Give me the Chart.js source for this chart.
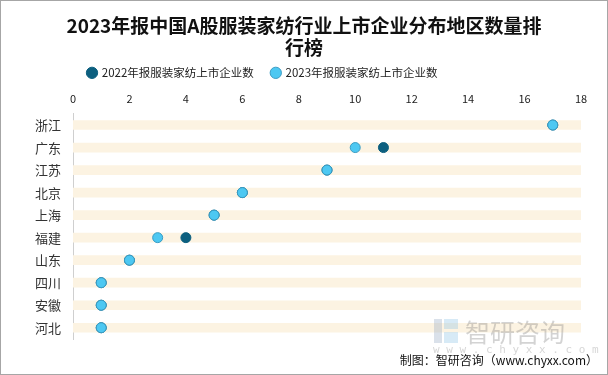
<!DOCTYPE html>
<html>
<head>
<meta charset="utf-8">
<script src="https://cdn.jsdelivr.net/npm/chart.js@4/dist/chart.umd.min.js"></script>
<style>
  html, body { margin: 0; padding: 0; background: #fff; }
  #wrap { position: relative; width: 606px; height: 373px; border: 1px solid #a6a6a6; }
  canvas { display: block; }
</style>
</head>
<body>
<div id="wrap"><canvas id="c" width="606" height="373"></canvas></div>
<script>
// 数据
const regions = ['浙江', '广东', '江苏', '北京', '上海', '福建', '山东', '四川', '安徽', '河北'];
const count2022 = [17, 11, 9, 6, 5, 4, 2, 1, 1, 1];
const count2023 = [17, 10, 9, 6, 5, 3, 2, 1, 1, 1];
const xTicks = [0, 2, 4, 6, 8, 10, 12, 14, 16, 18];
const xMax = 18;

const fontCN = '"Noto Sans CJK SC", "Noto Sans", sans-serif';

// 图例左移（原图图例不居中）
const pluginLegenda = {
  id: 'legendaPos',
  beforeDraw: (chart) => {
    if (chart.legend) chart.legend.left = 69;
  }
};

// 水印 + 制图来源
const pluginTexto = {
  id: 'textoExtra',
  afterDraw: (chart) => {
    const { ctx } = chart;
    ctx.save();
    // logo mark
    ctx.fillStyle = 'rgba(150,170,195,0.35)';
    ctx.fillRect(433, 318, 8, 24);
    ctx.fillStyle = 'rgba(140,195,230,0.35)';
    ctx.fillRect(443, 318, 14, 10);
    ctx.fillRect(443, 331, 14, 11);
    ctx.fillStyle = 'rgba(110,110,110,0.3)';
    ctx.font = '25px ' + fontCN;
    ctx.textBaseline = 'middle';
    ctx.fillText('智研咨询', 464, 331);
    ctx.font = '11px "DejaVu Sans Mono", monospace';
    ctx.fillStyle = 'rgba(120,120,120,0.3)';
    ctx.fillText('w w w . c h y x x . c o m', 432, 349);

    ctx.fillStyle = '#111';
    ctx.font = '12px ' + fontCN;
    ctx.textAlign = 'right';
    ctx.fillText('制图：智研咨询（www.chyxx.com）', 597, 359);
    ctx.restore();
  }
};

new Chart(document.getElementById('c'), {
  type: 'bar',
  data: {
    labels: regions,
    datasets: [
      {
        label: 'faixa',
        data: regions.map(() => xMax),
        backgroundColor: '#FCF3E2',
        barThickness: 9,
        order: 3
      },
      {
        type: 'line',
        label: '2022年报服装家纺上市企业数',
        data: count2022,
        showLine: false,
        pointStyle: 'circle',
        pointRadius: 5,
        pointBackgroundColor: '#0C5F7F',
        pointBorderColor: '#0C5F7F',
        backgroundColor: '#0C5F7F',
        borderColor: '#0C5F7F',
        pointBorderWidth: 1,
        order: 2
      },
      {
        type: 'line',
        label: '2023年报服装家纺上市企业数',
        data: count2023,
        showLine: false,
        pointStyle: 'circle',
        pointRadius: 5,
        pointBackgroundColor: '#4DC8F2',
        pointBorderColor: '#3A9CC4',
        backgroundColor: '#4DC8F2',
        borderColor: '#4DC8F2',
        pointBorderWidth: 1,
        order: 1
      }
    ]
  },
  options: {
    indexAxis: 'y',
    responsive: false,
    animation: false,
    layout: { padding: { left: 0, right: 0, top: 0, bottom: 35 } },
    plugins: {
      title: {
        display: true,
        text: ['2023年报中国A股服装家纺行业上市企业分布地区数量排', '行榜'],
        color: '#111',
        font: { family: fontCN, size: 19, weight: 'bold', lineHeight: 1.16 },
        padding: { top: 14, bottom: -10 }
      },
      legend: {
        display: true,
        position: 'top',
        align: 'start',
        labels: {
          filter: (item) => item.text !== 'faixa',
          sort: (a, b) => a.datasetIndex - b.datasetIndex,
          usePointStyle: true,
          pointStyle: 'circle',
          boxWidth: 8,
          boxHeight: 8,
          padding: 18,
          color: '#222',
          font: { family: fontCN, size: 11.5 }
        }
      },
      tooltip: { enabled: false }
    },
    scales: {
      x: {
        position: 'top',
        min: 0,
        max: xMax,
        afterBuildTicks: (scale) => { scale.ticks = xTicks.map(v => ({ value: v })); },
        afterFit: (scale) => { scale.height = scale.height - 4; },
        grid: { display: false, drawTicks: false },
        border: { display: false },
        ticks: { color: '#222', font: { family: fontCN, size: 11 }, padding: 8 }
      },
      y: {
        afterFit: (scale) => { scale.width = 72; },
        grid: { display: false },
        border: { display: true, color: '#cfcfcf' },
        ticks: { color: '#333', font: { family: fontCN, size: 13 }, padding: 4 }
      },
      yDir: {
        type: 'linear',
        axis: 'y',
        position: 'right',
        afterFit: (scale) => { scale.width = 26; },
        grid: { display: false },
        border: { display: false },
        ticks: { display: false }
      }
    }
  },
  plugins: [pluginLegenda, pluginTexto]
});
</script>
</body>
</html>
